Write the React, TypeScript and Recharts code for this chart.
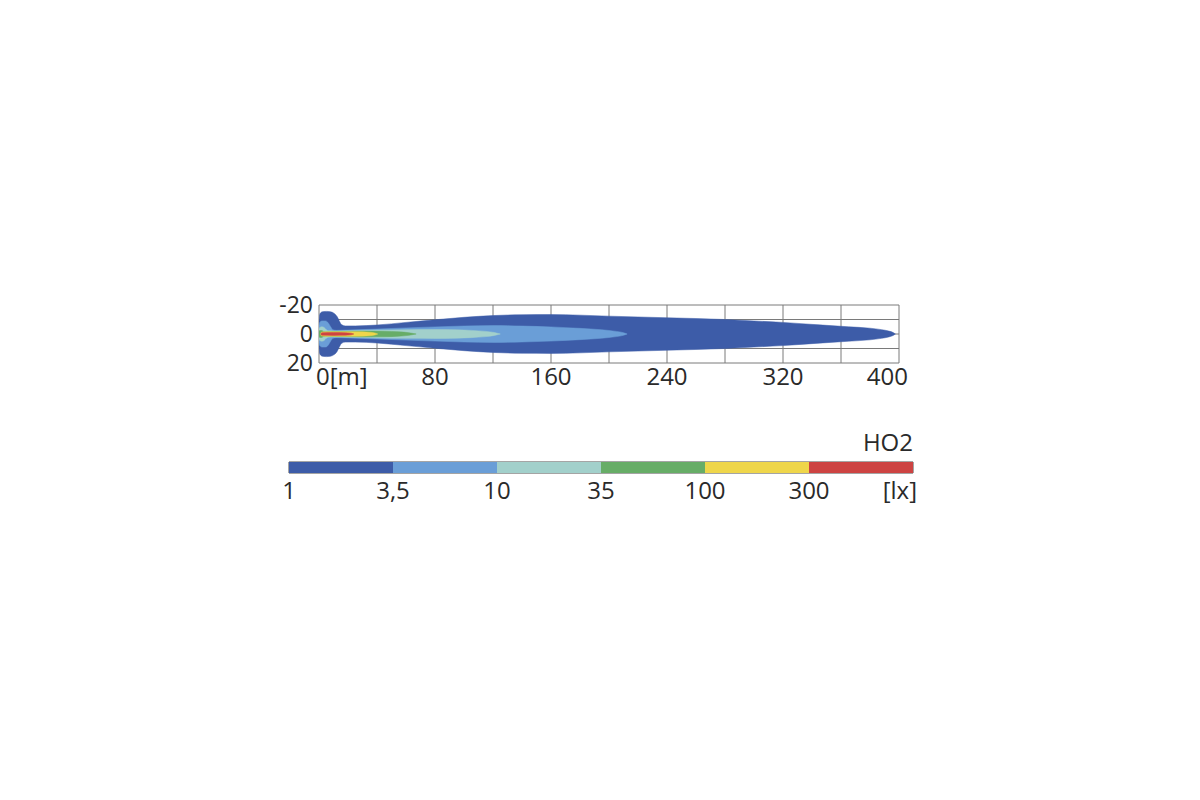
import {
  ComposedChart,
  Area,
  XAxis,
  YAxis,
  CartesianGrid,
  BarChart,
  Bar,
  ReferenceArea,
  Label,
} from "recharts";

// distance along the road [m] and lateral offset [m]
const distTicks = [0, 40, 80, 120, 160, 200, 240, 280, 320, 360, 400];
const distLabels: Record<number, string> = {
  0: "0[m]",
  80: "80",
  160: "160",
  240: "240",
  320: "320",
  400: "400",
};
const sideTicks = [-20, -10, 0, 10, 20];
const sideLabels: Record<number, string> = { "-20": "-20", 0: "0", 20: "20" };

// isolux contours: x = distance [m], h = half width [m]
const iso1 = [
  { x: 0, h: 9 }, { x: 0.3, h: 12.5 }, { x: 1, h: 14.5 }, { x: 2.5, h: 15.4 },
  { x: 5, h: 15.6 }, { x: 8, h: 15.3 }, { x: 10.5, h: 14.2 }, { x: 12.5, h: 12 },
  { x: 14, h: 9 }, { x: 15.5, h: 6.5 }, { x: 18, h: 5.6 }, { x: 25, h: 5.6 },
  { x: 40, h: 6.2 }, { x: 60, h: 8 }, { x: 80, h: 9.8 }, { x: 100, h: 11.5 },
  { x: 120, h: 12.7 }, { x: 140, h: 13.3 }, { x: 160, h: 13.4 }, { x: 180, h: 13 },
  { x: 200, h: 12.3 }, { x: 240, h: 11.2 }, { x: 280, h: 10 }, { x: 300, h: 9 },
  { x: 320, h: 8 }, { x: 345, h: 6.3 }, { x: 365, h: 5 }, { x: 380, h: 4 },
  { x: 388, h: 3 }, { x: 393, h: 2 }, { x: 396, h: 1 }, { x: 397.5, h: 0 },
];
const iso3_5 = [
  { x: 0, h: 6 }, { x: 0.5, h: 8 }, { x: 2, h: 9 }, { x: 4.5, h: 9 },
  { x: 6.5, h: 7.5 }, { x: 8, h: 5 }, { x: 9.5, h: 3 }, { x: 12, h: 2.5 },
  { x: 20, h: 2.7 }, { x: 40, h: 3.4 }, { x: 60, h: 4.2 }, { x: 80, h: 4.9 },
  { x: 100, h: 5.5 }, { x: 120, h: 5.8 }, { x: 140, h: 5.5 }, { x: 160, h: 4.9 },
  { x: 180, h: 3.9 }, { x: 195, h: 2.9 }, { x: 205, h: 1.8 }, { x: 210, h: 0.9 },
  { x: 212.5, h: 0 },
];
const iso10 = [
  { x: 0, h: 3.5 }, { x: 0.5, h: 4.5 }, { x: 2, h: 5 }, { x: 3.5, h: 4.5 },
  { x: 5, h: 3 }, { x: 6.5, h: 2.2 }, { x: 10, h: 2.1 }, { x: 20, h: 2.3 },
  { x: 40, h: 2.7 }, { x: 60, h: 3 }, { x: 80, h: 3.1 }, { x: 95, h: 2.9 },
  { x: 105, h: 2.5 }, { x: 115, h: 1.8 }, { x: 121, h: 1 }, { x: 125, h: 0 },
];
const iso35 = [
  { x: 0, h: 1.8 }, { x: 0.5, h: 2.4 }, { x: 2, h: 2.4 }, { x: 3, h: 1.8 },
  { x: 4.5, h: 1.6 }, { x: 15, h: 1.7 }, { x: 30, h: 2 }, { x: 45, h: 1.9 },
  { x: 55, h: 1.5 }, { x: 62, h: 0.9 }, { x: 67, h: 0 },
];
const iso100 = [
  { x: 1, h: 0 }, { x: 1.8, h: 1.3 }, { x: 5, h: 1.5 }, { x: 20, h: 1.6 },
  { x: 30, h: 1.5 }, { x: 35, h: 1.2 }, { x: 38.5, h: 0.7 }, { x: 40.5, h: 0 },
];
const iso300 = [
  { x: 1.2, h: 0 }, { x: 2, h: 0.9 }, { x: 10, h: 1 }, { x: 18, h: 0.9 },
  { x: 22, h: 0.6 }, { x: 24, h: 0 },
];

// colour scale
const scaleLabels = ["1", "3,5", "10", "35", "100", "300", "[lx]"];
const scaleSteps = [{ name: "HO2", s0: 1, s1: 1, s2: 1, s3: 1, s4: 1, s5: 1 }];

const PALETTE = ["#3d5ca8", "#6a9ed7", "#a2d0cb", "#67ad67", "#efd64a", "#cd4342"];
const contours = [iso1, iso3_5, iso10, iso35, iso100, iso300];

const FONT = "'Open Sans', sans-serif";
const TEXT = "#2a2a2a";

const DistTick = ({ x, y, payload }: any) => {
  const label = distLabels[payload.value];
  if (!label) return null;
  let anchor = "middle";
  let dx = 0;
  if (payload.value === 0) { anchor = "start"; dx = -3; }
  if (payload.value === 400) { anchor = "end"; dx = 9; }
  return (
    <text x={x + dx} y={y + 20} textAnchor={anchor} fontSize={24} fill={TEXT} fontFamily={FONT}>
      {label}
    </text>
  );
};

const SideTick = ({ x, y, payload }: any) => {
  const label = sideLabels[payload.value];
  if (label == null) return null;
  return (
    <text x={x} y={y + 8} textAnchor="end" fontSize={23} fill={TEXT} fontFamily={FONT}>
      {label}
    </text>
  );
};

const ScaleTick = ({ x, y, payload }: any) => {
  const i = payload.value as number;
  const last = i === scaleLabels.length - 1;
  return (
    <text
      x={last ? x + 4 : x}
      y={y + 24}
      textAnchor={last ? "end" : "middle"}
      fontSize={24}
      fill={TEXT}
      fontFamily={FONT}
    >
      {scaleLabels[i]}
    </text>
  );
};

export default function App() {
  return (
    <div style={{ position: "absolute", left: 0, top: 0, width: 1200, height: 800, background: "#fff" }}>
      <div style={{ position: "absolute", left: 0, top: 0 }}>
        <ComposedChart width={1200} height={400} margin={{ top: 305, right: 301, bottom: 7, left: 279 }}>
          <CartesianGrid stroke="#7a7a7a" strokeWidth={1} />
          <XAxis
            type="number"
            dataKey="x"
            domain={[0, 400]}
            ticks={distTicks}
            allowDataOverflow
            axisLine={false}
            tickLine={false}
            tickSize={0}
            tick={<DistTick />}
            height={30}
            interval={0}
          />
          <YAxis
            type="number"
            domain={[-20, 20]}
            ticks={sideTicks}
            reversed
            allowDataOverflow
            axisLine={false}
            tickLine={false}
            tickSize={0}
            tickMargin={6}
            tick={<SideTick />}
            width={40}
            interval={0}
          />
          {contours.map((data, i) => (
            <Area
              key={i}
              data={data}
              dataKey={(d: any) => [-d.h, d.h]}
              type="monotone"
              fill={PALETTE[i]}
              fillOpacity={1}
              stroke={PALETTE[i]}
              strokeWidth={0.5}
              dot={false}
              activeDot={false}
              isAnimationActive={false}
            />
          ))}
        </ComposedChart>
      </div>
      <div style={{ position: "absolute", left: 0, top: 400 }}>
        <BarChart
          width={1200}
          height={120}
          layout="vertical"
          data={scaleSteps}
          barCategoryGap={0}
          margin={{ top: 62, right: 287, bottom: 17, left: 289 }}
        >
          <XAxis
            type="number"
            domain={[0, 6]}
            ticks={[0, 1, 2, 3, 4, 5, 6]}
            axisLine={false}
            tickLine={false}
            tickSize={0}
            tick={<ScaleTick />}
            height={30}
            interval={0}
          />
          <YAxis type="category" dataKey="name" hide width={0} />
          {PALETTE.map((c, i) => (
            <Bar key={i} dataKey={`s${i}`} stackId="scale" fill={c} isAnimationActive={false} />
          ))}
          <ReferenceArea x1={0} x2={6} fill="none" stroke="#4a4a4a" strokeWidth={1} ifOverflow="visible">
            <Label
              content={({ viewBox }: any) => (
                <text
                  x={viewBox.x + viewBox.width}
                  y={viewBox.y - 11}
                  textAnchor="end"
                  fontSize={24}
                  fill={TEXT}
                  fontFamily={FONT}
                >
                  HO2
                </text>
              )}
            />
          </ReferenceArea>
        </BarChart>
      </div>
    </div>
  );
}
